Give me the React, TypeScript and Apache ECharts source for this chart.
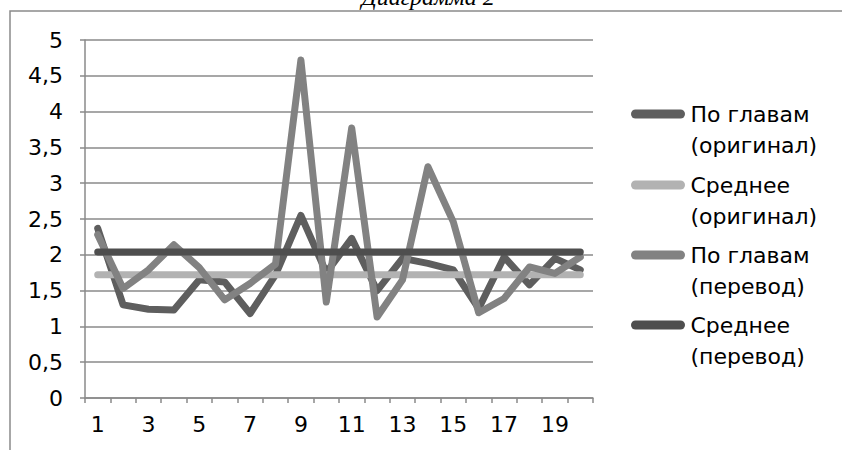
import React, { useEffect, useRef } from "react";
import * as echarts from "echarts";

const categories = ["1","2","3","4","5","6","7","8","9","10","11","12","13","14","15","16","17","18","19","20"];
const seriesNames = ["По главам\n(оригинал)", "Среднее\n(оригинал)", "По главам\n(перевод)", "Среднее\n(перевод)"];
const chaptersOriginal = [2.37, 1.30, 1.24, 1.23, 1.65, 1.62, 1.18, 1.72, 2.55, 1.75, 2.23, 1.50, 1.95, 1.88, 1.79, 1.25, 1.97, 1.58, 1.95, 1.79];
const averageOriginal = [1.72, 1.72, 1.72, 1.72, 1.72, 1.72, 1.72, 1.72, 1.72, 1.72, 1.72, 1.72, 1.72, 1.72, 1.72, 1.72, 1.72, 1.72, 1.72, 1.72];
const chaptersTranslation = [2.28, 1.53, 1.79, 2.14, 1.82, 1.37, 1.60, 1.87, 4.72, 1.34, 3.77, 1.13, 1.65, 3.23, 2.46, 1.19, 1.39, 1.83, 1.74, 1.97];
const averageTranslation = [2.04, 2.04, 2.04, 2.04, 2.04, 2.04, 2.04, 2.04, 2.04, 2.04, 2.04, 2.04, 2.04, 2.04, 2.04, 2.04, 2.04, 2.04, 2.04, 2.04];
const yTicks = { min: 0, max: 5, interval: 0.5 };
const titleText = "Диаграмма 2";

const colors = ["#5e5e5e", "#b2b2b2", "#828282", "#4e4e4e"];
const dataSets = [chaptersOriginal, averageOriginal, chaptersTranslation, averageTranslation];
const legendSymbolY = [114, 185, 255, 325];

const SANS = "'DejaVu Sans', 'Liberation Sans', Arial, sans-serif";
const pill = "path://M5,0 L55,0 A5,5 0 0 1 55,10 L5,10 A5,5 0 0 1 5,0 Z";

export default function App() {
  const ref = useRef<HTMLDivElement>(null);
  useEffect(() => {
    if (!ref.current) return;
    const chart = echarts.init(ref.current, undefined, { renderer: "svg" });
    const axisGray = "#8a8a8a";
    chart.setOption({
      animation: false,
      backgroundColor: "#ffffff",
      grid: { left: 85, top: 40, right: 249, bottom: 52, containLabel: false },
      xAxis: {
        type: "category",
        data: categories,
        boundaryGap: true,
        axisLine: { show: true, lineStyle: { color: axisGray, width: 1.5 } },
        axisTick: { show: true, alignWithLabel: false, interval: 0, length: 5, lineStyle: { color: axisGray, width: 1.5 } },
        axisLabel: { interval: 1, margin: 15, fontSize: 22, color: "#000", fontFamily: SANS },
        splitLine: { show: false },
      },
      yAxis: {
        type: "value",
        min: yTicks.min,
        max: yTicks.max,
        interval: yTicks.interval,
        axisLine: { show: true, lineStyle: { color: axisGray, width: 1.5 } },
        axisTick: { show: true, length: 5, lineStyle: { color: axisGray, width: 1.5 } },
        axisLabel: {
          margin: 22,
          fontSize: 22,
          color: "#000",
          fontFamily: SANS,
          formatter: (v: number) => String(v).replace(".", ","),
        },
        splitLine: { show: true, lineStyle: { color: axisGray, width: 1.5 } },
      },
      legend: seriesNames.map((name, i) => ({
        data: [name],
        orient: "vertical",
        left: 631,
        top: legendSymbolY[i] - 46.5,
        padding: 0,
        itemWidth: 55,
        itemHeight: 9,
        icon: pill,
        selectedMode: false,
        formatter: (n: string) => "\n" + n,
        textStyle: {
          fontSize: 22,
          lineHeight: 31,
          color: "#000",
          fontFamily: SANS,
        },
      })),
      series: seriesNames.map((name, i) => ({
        name,
        type: "line",
        data: dataSets[i],
        symbol: "none",
        smooth: false,
        color: colors[i],
        itemStyle: { color: colors[i] },
        lineStyle: { color: colors[i], width: 7, cap: "round", join: "round" },
        z: 2 + i,
      })),
      graphic: [
        {
          type: "rect",
          shape: { x: 10, y: 11, width: 1000, height: 1000 },
          style: { fill: "none", stroke: axisGray, lineWidth: 1.5 },
          silent: true,
          z: -10,
        },
        {
          type: "text",
          x: 428,
          y: -3,
          style: {
            text: titleText,
            fontSize: 24,
            fontStyle: "italic",
            fontFamily: "'Liberation Serif', 'Times New Roman', serif",
            fill: "#000",
            align: "center",
            verticalAlign: "middle",
          },
          silent: true,
        },
      ],
    });
    return () => chart.dispose();
  }, []);
  return (
    <div
      ref={ref}
      style={{ position: "fixed", left: 0, top: 0, width: 842, height: 450, background: "#fff" }}
    />
  );
}
